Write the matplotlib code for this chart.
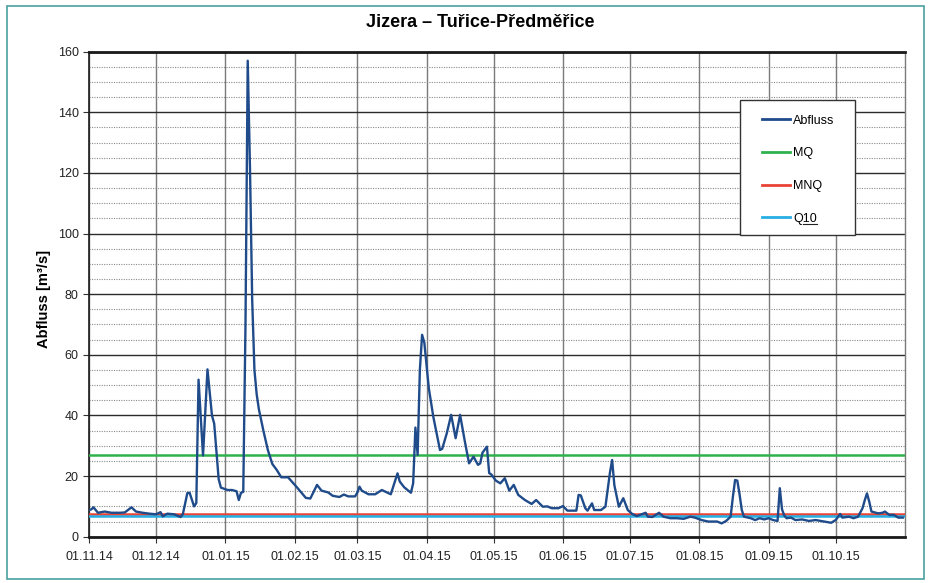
import numpy as np
import pandas as pd
import matplotlib.pyplot as plt
import matplotlib.dates as mdates
from matplotlib import font_manager
from matplotlib.patches import Rectangle
from matplotlib.lines import Line2D

plt.rcParams['font.family'] = ['Liberation Sans', 'DejaVu Sans']

# Abfluss readings (date, m3/s)
DATES = [
    "2014-11-01", "2014-11-02", "2014-11-03", "2014-11-05", "2014-11-08", "2014-11-11",
    "2014-11-15", "2014-11-17", "2014-11-20", "2014-11-22", "2014-11-25", "2014-11-28",
    "2014-12-01", "2014-12-03", "2014-12-04", "2014-12-06", "2014-12-09", "2014-12-12",
    "2014-12-13", "2014-12-15", "2014-12-16", "2014-12-18", "2014-12-19", "2014-12-20",
    "2014-12-22", "2014-12-24", "2014-12-26", "2014-12-27", "2014-12-29", "2014-12-30",
    "2015-01-02", "2015-01-04", "2015-01-06", "2015-01-07", "2015-01-08", "2015-01-09",
    "2015-01-10", "2015-01-11", "2015-01-12", "2015-01-13", "2015-01-14", "2015-01-15",
    "2015-01-16", "2015-01-18", "2015-01-20", "2015-01-22", "2015-01-24", "2015-01-26",
    "2015-01-29", "2015-01-30", "2015-02-02", "2015-02-06", "2015-02-08", "2015-02-11",
    "2015-02-13", "2015-02-16", "2015-02-18", "2015-02-21", "2015-02-23", "2015-02-25",
    "2015-02-28", "2015-03-01", "2015-03-02", "2015-03-03", "2015-03-06", "2015-03-09",
    "2015-03-12", "2015-03-16", "2015-03-19", "2015-03-20", "2015-03-22", "2015-03-25",
    "2015-03-26", "2015-03-27", "2015-03-28", "2015-03-29", "2015-03-30", "2015-03-31",
    "2015-04-02", "2015-04-04", "2015-04-07", "2015-04-08", "2015-04-10", "2015-04-12",
    "2015-04-14", "2015-04-16", "2015-04-18", "2015-04-20", "2015-04-22", "2015-04-24",
    "2015-04-25", "2015-04-26", "2015-04-28", "2015-04-29", "2015-04-30", "2015-05-02",
    "2015-05-04", "2015-05-06", "2015-05-08", "2015-05-10", "2015-05-12", "2015-05-15",
    "2015-05-18", "2015-05-20", "2015-05-23", "2015-05-25", "2015-05-27", "2015-05-30",
    "2015-06-01", "2015-06-03", "2015-06-07", "2015-06-08", "2015-06-09", "2015-06-11",
    "2015-06-12", "2015-06-14", "2015-06-15", "2015-06-18", "2015-06-20", "2015-06-22",
    "2015-06-23", "2015-06-24", "2015-06-26", "2015-06-28", "2015-06-30", "2015-07-02",
    "2015-07-04", "2015-07-08", "2015-07-09", "2015-07-11", "2015-07-14", "2015-07-16",
    "2015-07-19", "2015-07-22", "2015-07-25", "2015-07-28", "2015-07-30", "2015-08-02",
    "2015-08-05", "2015-08-09", "2015-08-11", "2015-08-13", "2015-08-15", "2015-08-16",
    "2015-08-17", "2015-08-18", "2015-08-19", "2015-08-20", "2015-08-21", "2015-08-24",
    "2015-08-26", "2015-08-28", "2015-08-30", "2015-09-01", "2015-09-03", "2015-09-05",
    "2015-09-06", "2015-09-07", "2015-09-08", "2015-09-09", "2015-09-11", "2015-09-13",
    "2015-09-16", "2015-09-19", "2015-09-22", "2015-09-26", "2015-09-29", "2015-10-01",
    "2015-10-03", "2015-10-04", "2015-10-07", "2015-10-09", "2015-10-11", "2015-10-13",
    "2015-10-14", "2015-10-15", "2015-10-16", "2015-10-17", "2015-10-20", "2015-10-22",
    "2015-10-23", "2015-10-25", "2015-10-27", "2015-10-29", "2015-10-31",
]
FLOW = [
    8.8, 9.0, 9.7, 7.9, 8.3, 7.9,
    7.9, 8.0, 9.7, 8.3, 7.9, 7.6,
    7.4, 8.1, 6.7, 7.6, 7.4, 6.5,
    7.5, 14.4, 14.5, 10.0, 11.1, 51.8,
    26.8, 55.2, 40.0, 37.3, 19.0, 16.2,
    15.4, 15.4, 15.0, 12.1, 14.5, 14.8,
    70.0, 157.0, 122.0, 78.0, 55.0, 47.0,
    42.0, 35.0, 28.6, 24.0, 22.0, 19.6,
    19.6, 18.8, 16.3, 12.8, 12.6, 17.1,
    15.2, 14.6, 13.5, 13.1, 13.9, 13.3,
    13.3, 14.5, 16.5, 15.2, 14.0, 14.0,
    15.4, 14.0, 20.9, 18.2, 16.3, 14.5,
    17.6, 36.0, 27.0, 55.0, 66.6, 64.0,
    49.0, 39.6, 28.6, 29.0, 34.0, 40.2,
    32.5, 40.2, 31.9, 24.2, 26.4, 23.7,
    24.2, 27.7, 29.7, 21.0, 20.5, 18.5,
    17.6, 19.3, 15.2, 17.1, 13.8, 12.1,
    10.8, 12.1, 9.9, 10.0, 9.4, 9.4,
    10.1, 8.6, 8.6, 13.8, 13.6, 9.4,
    8.6, 11.0, 8.8, 8.8, 9.9, 21.0,
    25.3, 17.0, 9.9, 12.7, 8.8, 7.5,
    6.8, 7.9, 6.6, 6.5, 7.9, 6.6,
    6.1, 6.1, 5.9, 6.6, 6.3, 5.5,
    5.0, 5.0, 4.4, 5.2, 6.6, 13.0,
    18.7, 18.5, 14.0, 8.8, 6.6, 6.1,
    5.5, 6.1, 5.7, 6.1, 5.5, 5.2,
    16.0, 9.0, 7.0, 6.1, 6.3, 5.5,
    5.7, 5.2, 5.5, 5.0, 4.6, 5.5,
    7.5, 6.3, 6.6, 6.1, 6.6, 9.4,
    12.0, 14.3, 11.6, 8.3, 7.7, 7.9,
    8.3, 7.2, 7.2, 6.3, 6.3,
]

MQ = 26.8
MNQ = 7.6
Q10 = 6.9

SERIES_LABELS = ["Abfluss", "MQ", "MNQ", "Q10"]
SERIES_COLORS = ["#1f4b8a", "#2fb24c", "#ea4335", "#27aee3"]

TITLE = "Jizera – Tuřice-Předměřice"
YLABEL = "Abfluss [m³/s]"


def make_plot():
    dates = pd.to_datetime(DATES)

    # the original uses a tall, narrow bold face for title and axis label
    names = {f.name for f in font_manager.fontManager.ttflist}
    if "Liberation Sans Narrow" in names:
        head_font, title_size, ylab_size = ["Liberation Sans Narrow", "Liberation Sans"], 15.5, 12.5
    else:
        head_font, title_size, ylab_size = ["Liberation Sans", "DejaVu Sans"], 13, 10.5

    fig = plt.figure(figsize=(9.3, 5.83), dpi=100)
    ax = fig.add_axes([0.0957, 0.0794, 0.8774, 0.832])

    l_mq = ax.axhline(MQ, color=SERIES_COLORS[1], lw=1.8, zorder=3)
    l_mnq = ax.axhline(MNQ, color=SERIES_COLORS[2], lw=1.8, zorder=3)
    l_q10 = ax.axhline(Q10, color=SERIES_COLORS[3], lw=1.8, zorder=3)
    l_q, = ax.plot(dates, FLOW, color=SERIES_COLORS[0], lw=1.7, zorder=4)

    ax.set_xlim(pd.Timestamp("2014-11-01"), pd.Timestamp("2015-11-01"))
    ax.set_ylim(0, 160)

    ax.set_xticks(pd.date_range("2014-11-01", "2015-10-01", freq="MS"))
    ax.xaxis.set_major_formatter(mdates.DateFormatter("%d.%m.%y"))
    ax.set_yticks(np.arange(0, 161, 20))
    ax.set_yticks(np.arange(0, 161, 5), minor=True)

    # grid: grey verticals, dark majors, dotted minors
    ax.grid(axis="x", which="major", color="#7a7a7a", lw=1.0, zorder=1)
    ax.grid(axis="y", which="major", color="#2b2b2b", lw=1.0, zorder=1)
    ax.grid(axis="y", which="minor", color="#8a8a8a", lw=0.8,
            linestyle=(0, (1, 1.2)), zorder=1)
    ax.set_axisbelow(True)

    ax.tick_params(axis="both", which="major", labelsize=9, length=4,
                   color="#333333", labelcolor="#222222")
    ax.tick_params(axis="y", which="minor", length=0)
    ax.tick_params(axis="x", pad=6)

    for side in ["top", "bottom"]:
        ax.spines[side].set_linewidth(2.0)
        ax.spines[side].set_color("#1a1a1a")
    ax.spines["left"].set_linewidth(1.2)
    ax.spines["left"].set_color("#1a1a1a")
    ax.spines["right"].set_linewidth(1.0)
    ax.spines["right"].set_color("#7a7a7a")

    ax.set_ylabel(YLABEL, fontsize=ylab_size, fontweight="bold", family=head_font)
    ax.yaxis.label.set_va("center")
    ax.yaxis.set_label_coords(-0.055, 0.49)
    fig.text(0.516, 0.962, TITLE, ha="center", va="center",
             fontsize=title_size, fontweight="bold", family=head_font)

    # legend: own frame, entries spread out like the original
    ax.add_patch(Rectangle((0.798, 0.622), 0.141, 0.278, transform=ax.transAxes,
                           facecolor="white", edgecolor="#333333", lw=1.0, zorder=6))
    leg = ax.legend([l_q, l_mq, l_mnq, l_q10], SERIES_LABELS,
                    loc="upper left", bbox_to_anchor=(0.825, 0.870),
                    fontsize=9, frameon=False,
                    handlelength=2.25, handletextpad=0.25,
                    labelspacing=1.65, borderpad=0.0, borderaxespad=0.0)
    leg.set_zorder(7)
    for line in leg.get_lines():
        line.set_linewidth(2.0)

    # underline the "10" of Q10 as in the original legend
    fig.canvas.draw()
    bb = leg.get_texts()[3].get_window_extent().transformed(fig.transFigure.inverted())
    x0 = bb.x0 + bb.width * 0.41
    y0 = bb.y0 + bb.height * 0.08
    fig.add_artist(Line2D([x0, bb.x1], [y0, y0], transform=fig.transFigure,
                          color="#222222", lw=0.8))

    # teal frame around the whole picture
    fig.patches.append(Rectangle((7 / 930, 4 / 583), 917 / 930, 573 / 583,
                                 transform=fig.transFigure, fill=False,
                                 edgecolor="#4a9fa0", lw=1.2))

    fig.savefig("out.png", dpi=100)
    plt.close(fig)


if __name__ == "__main__":
    make_plot()
